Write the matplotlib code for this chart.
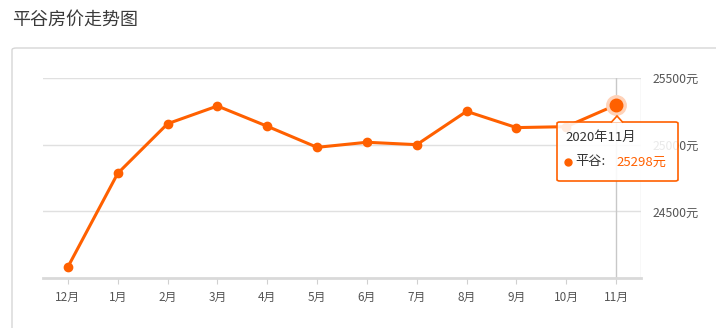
import matplotlib.pyplot as plt
import matplotlib.patches as mpatches
from matplotlib.lines import Line2D

plt.rcParams['font.family'] = ['Noto Sans CJK SC', 'DejaVu Sans']

months = ['12月', '1月', '2月', '3月', '4月', '5月', '6月', '7月', '8月', '9月', '10月', '11月']
prices = [24083, 24785, 25157, 25290, 25138, 24980, 25018, 25000, 25250, 25128, 25135, 25298]
y_ticks = [24500, 25000, 25500]
title = '平谷房价走势图'
tip_date = '2020年11月'
tip_name = '平谷'

W, H = 716, 328
orange = '#ff6000'

fig = plt.figure(figsize=(W / 100, H / 100), dpi=100)


def fx(px):
    return px / W


def fy(py):
    return 1 - py / H


# page title and the outer panel
fig.text(fx(12), fy(20), title, fontsize=13, color='#3a3a3a', va='center', ha='left')
panel = mpatches.FancyBboxPatch((fx(12), fy(360)), fx(740), 312 / H,
                                boxstyle='round,pad=0,rounding_size=0.006',
                                transform=fig.transFigure, fc='white', ec='#d6d6d6', lw=1, zorder=-1)
fig.patches.append(panel)

ax = fig.add_axes([fx(43), fy(278), fx(641) - fx(43), (278 - 78) / H])
ax.set_facecolor('none')
x = list(range(len(months)))

ax.set_xlim(-0.5, len(months) - 0.5)
ax.set_ylim(24000, 25500)
for v in y_ticks:
    ax.axhline(v, color='#e0e0e0', lw=1, zorder=1)
ax.axvline(len(months) - 0.5, color='#e0e0e0', lw=1, zorder=1)
# axis pointer
ax.axvline(x[-1], color='#c8c8c8', lw=1, zorder=1)

ax.plot(x, prices, color=orange, lw=2.2, marker='o', ms=6, zorder=3, solid_capstyle='round')
ax.plot(x[-1], prices[-1], 'o', ms=14, color='#ffd2b8', zorder=4)
ax.plot(x[-1], prices[-1], 'o', ms=9, color=orange, zorder=5)

for s in ['top', 'left', 'right']:
    ax.spines[s].set_visible(False)
ax.spines['bottom'].set_color('#d9d9d9')
ax.spines['bottom'].set_linewidth(2)
ax.set_xticks(x)
ax.set_xticklabels(months)
ax.tick_params(axis='x', length=4, color='#d0d0d0', labelsize=8.5, labelcolor='#555555', pad=5)
ax.yaxis.tick_right()
ax.set_yticks(y_ticks)
ax.set_yticklabels([f'{v}元' for v in y_ticks])
ax.tick_params(axis='y', length=0, labelsize=8.8, labelcolor='#555555', pad=8)

# tooltip
tip = mpatches.FancyBboxPatch((fx(557), fy(181)), fx(678) - fx(557), (181 - 122) / H,
                              boxstyle='round,pad=0,rounding_size=0.004',
                              transform=fig.transFigure, fc=(1, 1, 1, 0.88), ec=orange, lw=1.2, zorder=10)
fig.patches.append(tip)
arrow = mpatches.Polygon([(fx(611), fy(122.6)), (fx(617), fy(116)), (fx(623), fy(122.6))],
                         closed=False, transform=fig.transFigure, fc='white', ec=orange, lw=1.2, zorder=11)
fig.patches.append(arrow)
fig.text(fx(565), fy(137), tip_date, fontsize=9.5, color='#333333', va='center', ha='left', zorder=12)
fig.lines.append(Line2D([fx(568)], [fy(162)], marker='o', ms=5, color=orange,
                        transform=fig.transFigure, zorder=12))
fig.text(fx(575), fy(162), tip_name + ':', fontsize=9.5, color='#333333', va='center', ha='left', zorder=12)
fig.text(fx(616), fy(162), f'{prices[-1]}元', fontsize=9.5, color=orange, va='center', ha='left', zorder=12)

fig.savefig('out.png', dpi=100)
